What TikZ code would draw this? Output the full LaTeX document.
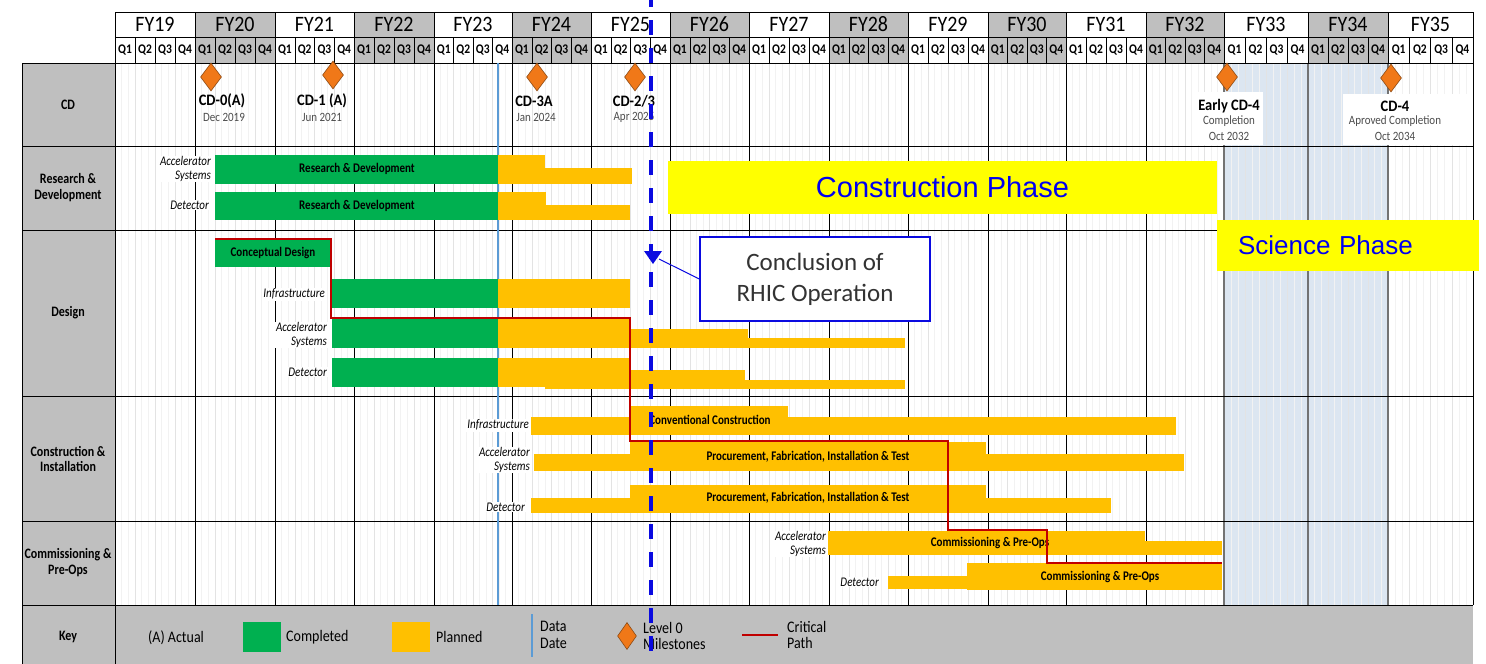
\documentclass[tikz,border=0pt]{standalone}
\usepackage{fontspec}
\setmainfont{Carlito}
\newfontfamily\phasefont{Liberation Sans}
\usetikzlibrary{arrows.meta, positioning, shapes.geometric}

\definecolor{hdrgray}{HTML}{BFBFBF}
\definecolor{donegreen}{HTML}{00B050}
\definecolor{planorange}{HTML}{FFC000}
\definecolor{mileorange}{HTML}{F07818}
\definecolor{mileedge}{HTML}{8C4A14}
\definecolor{sciblue}{HTML}{DCE6F1}
\definecolor{datablue}{HTML}{5B9BD5}
\definecolor{critred}{HTML}{C00000}
\definecolor{phaseblue}{HTML}{0000F0}
\definecolor{phaseyellow}{HTML}{FFFF00}
\definecolor{rhicblue}{HTML}{0A0AE0}

\begin{document}
\begin{tikzpicture}[x=1pt, y=-1pt,
  rowlbl/.style={font=\bfseries\fontsize{12}{13.3}\selectfont, align=center, yscale=1.2},
  fylbl/.style={font=\fontsize{20}{20}\selectfont, inner sep=0pt, yscale=1.1},
  qlbl/.style={font=\bfseries\fontsize{11.5}{11.5}\selectfont, inner sep=0pt, yscale=1.15},
  itlbl/.style={font=\itshape\fontsize{11}{11}\selectfont, align=right, anchor=east, fill=white, inner sep=1pt, yscale=1.2},
  barlbl/.style={font=\bfseries\fontsize{11}{11}\selectfont, inner sep=0pt, yscale=1.2},
  mstone/.style={diamond, draw=mileedge, fill=mileorange, line width=0.6pt, inner sep=0pt, minimum width=21pt, minimum height=28pt},
  mname/.style={font=\bfseries\fontsize{14.5}{16}\selectfont, inner sep=1pt, yscale=1.1},
  mdate/.style={font=\fontsize{11}{13}\selectfont, text=black!70, inner sep=1pt, yscale=1.15},
  done/.style={fill=donegreen},
  plan/.style={fill=planorange},
  critpath/.style={critred, line width=2.5pt},
  keytxt/.style={font=\fontsize{14}{14.5}\selectfont, anchor=west, align=left, inner sep=0pt, yscale=1.15},
  phasebox/.style={fill=phaseyellow, text=phaseblue, inner sep=0pt},
]
\useasboundingbox (0,0) rectangle (1486,664);

% science phase shading
\fill[sciblue] (1224,63) rectangle (1388,605);

% fiscal years: start/end/label/header colour
\foreach \xa/\xb/\yr/\hc in {115/195/19/white, 195/275/20/hdrgray, 275/354/21/white,
    354/434/22/hdrgray, 434/512/23/white, 512/591/24/hdrgray, 591/670/25/white,
    670/749/26/hdrgray, 749/829/27/white, 829/908/28/hdrgray, 908/988/29/white,
    988/1066/30/hdrgray, 1066/1146/31/white, 1146/1224/32/hdrgray, 1224/1308/33/white,
    1308/1388/34/hdrgray, 1388/1473/35/white}{
  \foreach \m in {1,...,11}{
    \pgfmathsetmacro\xm{\xa+\m*(\xb-\xa)/12}
    \draw[black!5] (\xm,63) -- (\xm,605);
  }
  \foreach \m in {1,2,3}{
    \pgfmathsetmacro\xm{\xa+\m*(\xb-\xa)/4}
    \draw[black!11] (\xm,63) -- (\xm,605);
  }
  \filldraw[fill=\hc, draw=black, line width=0.6pt] (\xa,12) rectangle (\xb,37);
  \node[fylbl] (fy\yr) at ({(\xa+\xb)/2},24.5) {FY\yr};
  \foreach \q in {1,...,4}{
    \pgfmathsetmacro\qa{\xa+(\q-1)*(\xb-\xa)/4}
    \pgfmathsetmacro\qb{\xa+\q*(\xb-\xa)/4}
    \filldraw[fill=\hc, draw=black, line width=0.5pt] (\qa,37) rectangle (\qb,63);
    \node[qlbl] (q\yr-\q) at ({(\qa+\qb)/2},50) {Q\q};
  }
}
\foreach \x in {195,275,354,434,512,591,670,749,829,908,988,1066,1146}
  \draw[black, line width=0.8pt] (\x,63) -- (\x,605);
\foreach \x in {1224,1308,1388}
  \draw[black!55, line width=1.2pt] (\x,63) -- (\x,605);

% label column and key row
\fill[hdrgray] (22,63) rectangle (115,664);
\fill[hdrgray] (115,605) rectangle (1473,664);
\foreach \y in {63,146,230,396,521,605}
  \draw[black, line width=0.8pt] (22,\y) -- (1473,\y);
\draw[black, line width=0.8pt] (22,63) -- (22,664);
\draw[black, line width=0.8pt] (115,12) -- (115,664);
\draw[black, line width=0.8pt] (1473,12) -- (1473,605);

\node[rowlbl] (rcd) at (68,105) {CD};
\node[rowlbl] (rrd) at (68,188) {Research \&\\Development};
\node[rowlbl] (rdes) at (68,313) {Design};
\node[rowlbl] (rci) at (68,459) {Construction \&\\Installation};
\node[rowlbl] (rcom) at (68,563) {Commissioning \&\\Pre-Ops};
\node[rowlbl] (rkey) at (68,637) {Key};

% phases
\node[phasebox, minimum width=549pt, minimum height=53pt, font=\phasefont\fontsize{29}{29}\selectfont] (cphase) at (942.5,187.5) {Construction Phase};
\node[phasebox, minimum width=262pt, minimum height=51pt, text width=220pt, align=left, font=\phasefont\fontsize{26}{26}\selectfont] (sphase) at (1348,245.5) {Science Phase};

% data date
\draw[datablue, line width=2pt] (498,63) -- (498,605);

% research & development
\fill[done] (215,155) rectangle (498,184);
\fill[plan] (498,155) rectangle (545,184);
\fill[plan] (545,168) rectangle (632,184);
\fill[done] (215,192) rectangle (498,220);
\fill[plan] (498,192) rectangle (546,220);
\fill[plan] (546,205) rectangle (630,220);
\node[barlbl] (rdacc) at (357,169) {Research \& Development};
\node[barlbl] (rddet) at (357,206) {Research \& Development};
\node[itlbl] (lrdacc) at (212,169) {Accelerator\\Systems};
\node[itlbl] (lrddet) at (210,205) {Detector};

% design
\fill[done] (215,240) rectangle (331,267);
\fill[done] (332,279) rectangle (498,308);
\fill[plan] (498,279) rectangle (630,308);
\fill[done] (332,318) rectangle (498,348);
\fill[plan] (498,318) rectangle (630,348);
\fill[plan] (630,329) rectangle (748,348);
\fill[plan] (748,338) rectangle (905,348);
\fill[done] (332,358) rectangle (498,387);
\fill[plan] (498,358) rectangle (630,387);
\fill[plan] (545,370) rectangle (745,389);
\fill[plan] (745,380) rectangle (905,389);
\node[barlbl] (cdes) at (273,253) {Conceptual Design};
\node[itlbl] (ldinf) at (326,294) {Infrastructure};
\node[itlbl] (ldacc) at (328,335) {Accelerator\\Systems};
\node[itlbl] (lddet) at (328,372) {Detector};

% construction & installation
\fill[plan] (531,417) rectangle (1176,435);
\fill[plan] (630,406) rectangle (788,435);
\fill[plan] (534,454) rectangle (1184,471);
\fill[plan] (630,442) rectangle (986,471);
\fill[plan] (531,498) rectangle (1111,513);
\fill[plan] (630,485) rectangle (986,513);
\node[barlbl] (ccon) at (710,420) {Conventional Construction};
\node[barlbl] (pacc) at (808,457) {Procurement, Fabrication, Installation \& Test};
\node[barlbl] (pdet) at (808,498) {Procurement, Fabrication, Installation \& Test};
\node[itlbl] (lcinf) at (530,425) {Infrastructure};
\node[itlbl] (lcacc) at (531,460) {Accelerator\\Systems};
\node[itlbl] (lcdet) at (526,507) {Detector};

% commissioning & pre-ops
\fill[plan] (828,531) rectangle (1145,555);
\fill[plan] (1145,541) rectangle (1222,555);
\fill[plan] (888,576) rectangle (967,589);
\fill[plan] (967,563) rectangle (1222,590);
\node[barlbl] (cacc) at (990,543) {Commissioning \& Pre-Ops};
\node[barlbl] (cdet) at (1100,577) {Commissioning \& Pre-Ops};
\node[itlbl] (lmacc) at (827,544) {Accelerator\\Systems};
\node[itlbl] (lmdet) at (880,582) {Detector};

% critical path
\draw[critpath] (215,239) -| (331,318) -| (630,441) -| (948,530) -| (1047,563) -- (1222,563);

% CD milestones
\node[mstone] (cd0) at (211,77) {};
\node[mname] (cd0n) at (222,101) {CD-0(A)};
\node[mdate] (cd0d) at (224,117) {Dec 2019};
\node[mstone] (cd1) at (333,75) {};
\node[mname] (cd1n) at (322,101) {CD-1 (A)};
\node[mdate] (cd1d) at (322,117) {Jun 2021};
\node[mstone] (cd3a) at (537,77) {};
\node[mname] (cd3an) at (534,101) {CD-3A};
\node[mdate] (cd3ad) at (536,117) {Jan 2024};
\node[mstone] (cd23) at (635,77) {};
\node[mname] (cd23n) at (634,101) {CD-2/3};
\node[mdate] (cd23d) at (634,117) {Apr 2025};
\fill[white] (1197,92) rectangle (1263,145);
\node[mstone] (ecd4) at (1227,77) {};
\node[mname] (ecd4n) at (1229,106) {Early CD-4};
\node[mdate] (ecd4c) at (1229,121) {Completion};
\node[mdate] (ecd4d) at (1229,136) {Oct 2032};
\fill[white] (1343,94) rectangle (1472,145);
\node[mstone] (cd4) at (1391,78) {};
\node[mname] (cd4n) at (1395,106) {CD-4};
\node[mdate] (cd4c) at (1395,121) {Aproved Completion};
\node[mdate] (cd4d) at (1395,136) {Oct 2034};

% end of RHIC
\node[draw=rhicblue, line width=1.3pt, fill=white, minimum width=230pt, minimum height=84pt, align=center, font=\fontsize{25}{31}\selectfont, text=black!80] (rhic) at (815,279) {Conclusion of\\RHIC Operation};
\coordinate (rhictip) at (659,259);
\draw[rhicblue, line width=1pt] (rhic.west) -- (rhictip);
\fill[rhicblue] (644,251) -- (662,251) -- (653,264) -- cycle;

% key
\node[keytxt] (kact) at (148,638) {(A) Actual};
\node[fill=donegreen, minimum width=38pt, minimum height=30pt] (kdone) at (262,637) {};
\node[keytxt] (kdonet) at (286,637) {Completed};
\node[fill=planorange, minimum width=38pt, minimum height=30pt] (kplan) at (411,637) {};
\node[keytxt] (kplant) at (436,637) {Planned};
\draw[datablue, line width=2pt] (532,614) -- (532,657);
\node[keytxt] (kdata) at (540,635) {Data\\Date};
\node[mstone, minimum width=19pt, minimum height=27pt] (kmile) at (627,636) {};
\node[keytxt] (kmilet) at (643,636) {Level 0\\Milestones};
\draw[critred, line width=2.5pt] (742,635) -- (778,635);
\node[keytxt] (kcrit) at (787,635) {Critical\\Path};

% RHIC end line
\draw[rhicblue, line width=3.5pt, dash pattern=on 15pt off 13pt, dash phase=8pt] (651,0) -- (651,653);
\end{tikzpicture}
\end{document}
